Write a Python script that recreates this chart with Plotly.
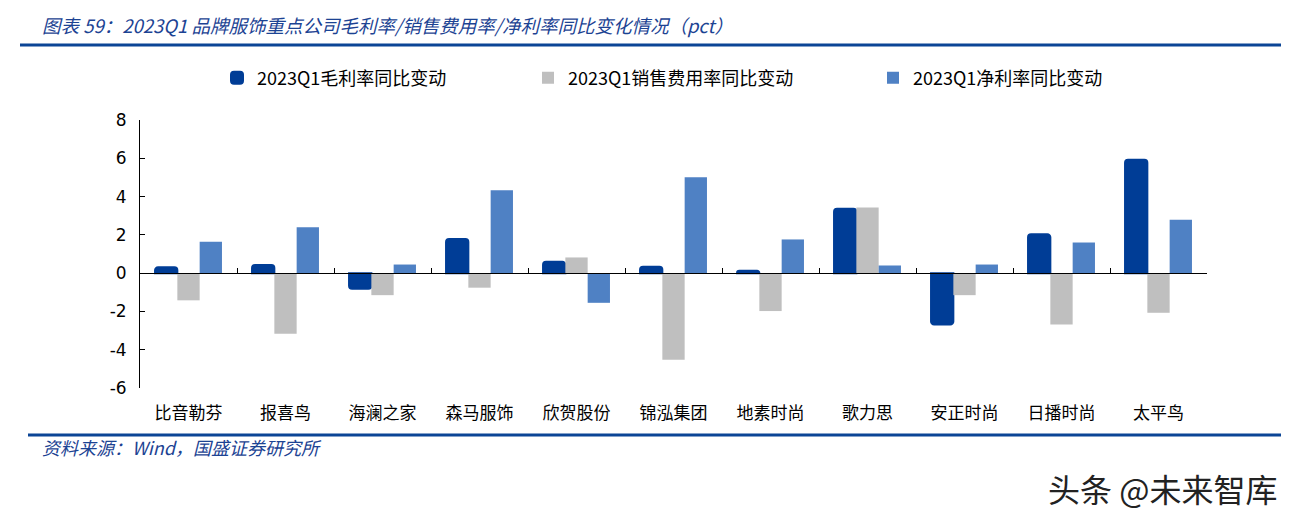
import plotly.graph_objects as go

# 2023Q1 brand apparel companies: YoY change (pct)
companies = ["比音勒芬", "报喜鸟", "海澜之家", "森马服饰", "欣贺股份", "锦泓集团",
             "地素时尚", "歌力思", "安正时尚", "日播时尚", "太平鸟"]
gross_margin_chg = [0.31, 0.42, -0.81, 1.79, 0.59, 0.33, 0.12, 3.36, -2.68, 2.03, 5.92]
selling_exp_chg = [-1.42, -3.16, -1.15, -0.76, 0.82, -4.52, -1.98, 3.43, -1.15, -2.68, -2.07]
net_margin_chg = [1.64, 2.40, 0.45, 4.33, -1.55, 5.01, 1.76, 0.40, 0.45, 1.60, 2.79]

series_names = ["2023Q1毛利率同比变动", "2023Q1销售费用率同比变动", "2023Q1净利率同比变动"]
y_ticks = [-6, -4, -2, 0, 2, 4, 6, 8]

W, H = 1303, 518
OFF = 8  # page body margin shifts the figure by 8px
L, T = 140 - OFF, 120 - OFF
R, B = W - (1207 - OFF), H - (388 - OFF)
Y_MIN, Y_MAX = -6, 8

DARK = "#003D96"
GRAY = "#BFBFBF"
LIGHT = "#4F81C4"
NAVY = "#0B4596"
CJK = "Noto Sans CJK SC"


def px_x(x):
    return (x - OFF - L) / (W - L - R)


def px_y(y):
    return 1 - (y - OFF - T) / (H - T - B)


fig = go.Figure()
fig.add_bar(x=companies, y=gross_margin_chg, name=series_names[0],
            marker=dict(color=DARK, line=dict(color=DARK, width=2), cornerradius=3),
            legend="legend")
fig.add_bar(x=companies, y=selling_exp_chg, name=series_names[1],
            marker=dict(color=GRAY, line=dict(width=0)), legend="legend2")
fig.add_bar(x=companies, y=net_margin_chg, name=series_names[2],
            marker=dict(color=LIGHT, line=dict(width=0)), legend="legend3")

leg_common = dict(orientation="h", xref="container", yref="container",
                  yanchor="middle", xanchor="left", y=1 - (78 - OFF) / H,
                  font=dict(family=CJK, size=18, color="#000000"),
                  bgcolor="rgba(0,0,0,0)")

fig.update_layout(
    width=W, height=H,
    margin=dict(l=L, r=R, t=T, b=B),
    paper_bgcolor="white", plot_bgcolor="white",
    showlegend=True,
    barmode="group", bargap=0.31, bargroupgap=0,
    legend=dict(x=(217 - OFF) / W, **leg_common),
    legend2=dict(x=(528 - OFF) / W, **leg_common),
    legend3=dict(x=(873 - OFF) / W, **leg_common),
    xaxis=dict(
        anchor="free", position=(0 - Y_MIN) / (Y_MAX - Y_MIN),
        showline=True, linecolor="#000000", linewidth=1,
        ticks="inside", tickson="boundaries", ticklen=5, tickcolor="#000000",
        showgrid=False, ticklabelstandoff=124,
        tickfont=dict(family=CJK, size=17, color="#000000"),
    ),
    yaxis=dict(
        range=[Y_MIN, Y_MAX], tickvals=y_ticks, ticktext=[str(v) for v in y_ticks],
        showline=True, linecolor="#000000", linewidth=1,
        ticks="inside", ticklen=5, tickcolor="#000000", ticklabelstandoff=9,
        showgrid=False, zeroline=False,
        tickfont=dict(family="DejaVu Sans", size=17, color="#000000"),
    ),
    font=dict(family=CJK),
)

# header and footer rules
fig.add_shape(type="line", xref="paper", yref="paper",
              x0=px_x(20), x1=px_x(1281), y0=px_y(45), y1=px_y(45),
              line=dict(color=NAVY, width=3))
fig.add_shape(type="line", xref="paper", yref="paper",
              x0=px_x(28), x1=px_x(1281), y0=px_y(435), y1=px_y(435),
              line=dict(color=NAVY, width=3))

fig.add_annotation(
    text="<i>图表 59：2023Q1 品牌服饰重点公司毛利率/销售费用率/净利率同比变化情况（pct）</i>",
    xref="paper", yref="paper", x=px_x(40), y=px_y(25),
    xanchor="left", yanchor="middle", showarrow=False,
    font=dict(family=CJK, size=18.5, color="#1C4393"))
fig.add_annotation(
    text="<i>资料来源：Wind，国盛证券研究所</i>",
    xref="paper", yref="paper", x=px_x(40), y=px_y(447),
    xanchor="left", yanchor="middle", showarrow=False,
    font=dict(family=CJK, size=18, color="#1C4393"))
fig.add_annotation(
    text="头条 @未来智库",
    xref="paper", yref="paper", x=px_x(1046), y=px_y(488),
    xanchor="left", yanchor="middle", showarrow=False,
    font=dict(family=CJK, size=32, color="#222222"))

fig.write_html("out.html")
